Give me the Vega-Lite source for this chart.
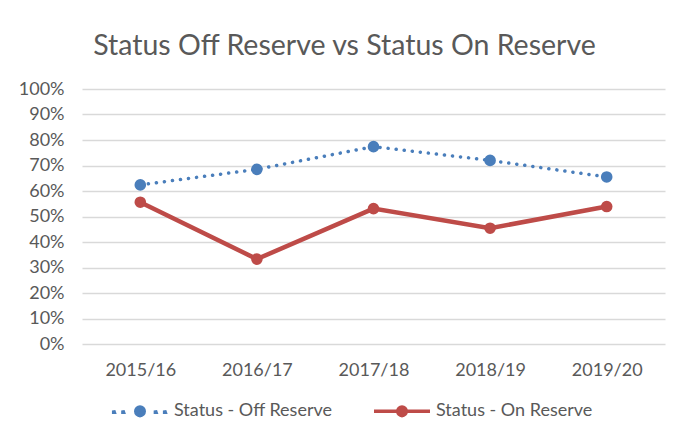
{
  "$schema": "https://vega.github.io/schema/vega-lite/v6.json",
  "autosize": "none",
  "width": 583,
  "height": 255,
  "padding": {"left": 82, "top": 89, "right": 18, "bottom": 101},
  "background": "white",
  "title": {
    "text": "Status Off Reserve vs Status On Reserve",
    "font": "Lato",
    "fontSize": 28.5,
    "fontWeight": "normal",
    "color": "#595959",
    "anchor": "middle",
    "dx": -29,
    "offset": 20
  },
  "data": {
    "values": [
      {"year": "2015/16", "series": "Status - Off Reserve", "value": 0.624},
      {"year": "2016/17", "series": "Status - Off Reserve", "value": 0.685},
      {"year": "2017/18", "series": "Status - Off Reserve", "value": 0.774},
      {"year": "2018/19", "series": "Status - Off Reserve", "value": 0.72},
      {"year": "2019/20", "series": "Status - Off Reserve", "value": 0.655},
      {"year": "2015/16", "series": "Status - On Reserve", "value": 0.556},
      {"year": "2016/17", "series": "Status - On Reserve", "value": 0.333},
      {"year": "2017/18", "series": "Status - On Reserve", "value": 0.531},
      {"year": "2018/19", "series": "Status - On Reserve", "value": 0.454},
      {"year": "2019/20", "series": "Status - On Reserve", "value": 0.539}
    ]
  },
  "encoding": {
    "x": {
      "field": "year", "type": "ordinal", "title": null,
      "scale": {"paddingInner": 0, "paddingOuter": 0.5},
      "axis": {
        "labelAngle": 0, "labelFont": "Lato", "labelFontSize": 18, "labelColor": "#595959",
        "labelPadding": 17, "ticks": false, "domain": false, "grid": false
      }
    },
    "y": {
      "field": "value", "type": "quantitative", "title": null,
      "scale": {"domain": [0, 1], "nice": false},
      "axis": {
        "format": "%", "values": [0, 0.1, 0.2, 0.3, 0.4, 0.5, 0.6, 0.7, 0.8, 0.9, 1],
        "labelFont": "Lato", "labelFontSize": 18, "labelColor": "#595959",
        "labelPadding": 18, "ticks": false, "domain": false,
        "gridColor": "#d9d9d9", "gridWidth": 1.3
      }
    },
    "color": {
      "field": "series", "type": "nominal",
      "scale": {"domain": ["Status - Off Reserve", "Status - On Reserve"], "range": ["#4a7ebb", "#be4b48"]},
      "legend": {
        "title": null,
        "orient": "none",
        "direction": "horizontal",
        "legendX": 28,
        "legendY": 292,
        "symbolSize": 3136,
        "symbolStrokeWidth": 3.5,
        "symbolOpacity": 1,
        "labelFont": "Lato",
        "labelFontSize": 18,
        "labelColor": "#595959",
        "labelOffset": 4,
        "columnPadding": 34
      }
    }
  },
  "layer": [
    {
      "transform": [{"filter": "datum.series === 'Status - Off Reserve'"}],
      "mark": {"type": "line", "strokeCap": "round", "strokeDash": [0.1, 8], "strokeWidth": 3.5}
    },
    {
      "transform": [{"filter": "datum.series === 'Status - On Reserve'"}],
      "mark": {"type": "line", "strokeCap": "round", "strokeWidth": 4.5}
    },
    {
      "mark": {"type": "point", "filled": true, "size": 135, "opacity": 1}
    },
    {
      "mark": {"type": "point", "filled": false, "opacity": 0, "strokeCap": "round"},
      "encoding": {
        "shape": {
          "field": "series", "type": "nominal",
          "scale": {
            "domain": ["Status - Off Reserve", "Status - On Reserve"],
            "range": [
              "M -0.94 -0.03 L -0.92 0.03 L -0.94 0.03 Z M -0.61 -0.03 L -0.59 0.03 L -0.61 0.03 Z M 0.55 -0.03 L 0.57 0.03 L 0.55 0.03 Z M 0.88 -0.03 L 0.9 0.03 L 0.88 0.03 Z M -0.152 0 A 0.152 0.152 0 1 1 0.152 0 A 0.152 0.152 0 1 1 -0.152 0 Z M -0.07 0 A 0.07 0.07 0 1 1 0.07 0 A 0.07 0.07 0 1 1 -0.07 0 Z",
              "M -1 0 L 1 0 M -0.152 0 A 0.152 0.152 0 1 1 0.152 0 A 0.152 0.152 0 1 1 -0.152 0 Z M -0.07 0 A 0.07 0.07 0 1 1 0.07 0 A 0.07 0.07 0 1 1 -0.07 0 Z"
            ]
          },
          "legend": {"title": null}
        }
      }
    }
  ],
  "config": {"view": {"stroke": null}}
}
